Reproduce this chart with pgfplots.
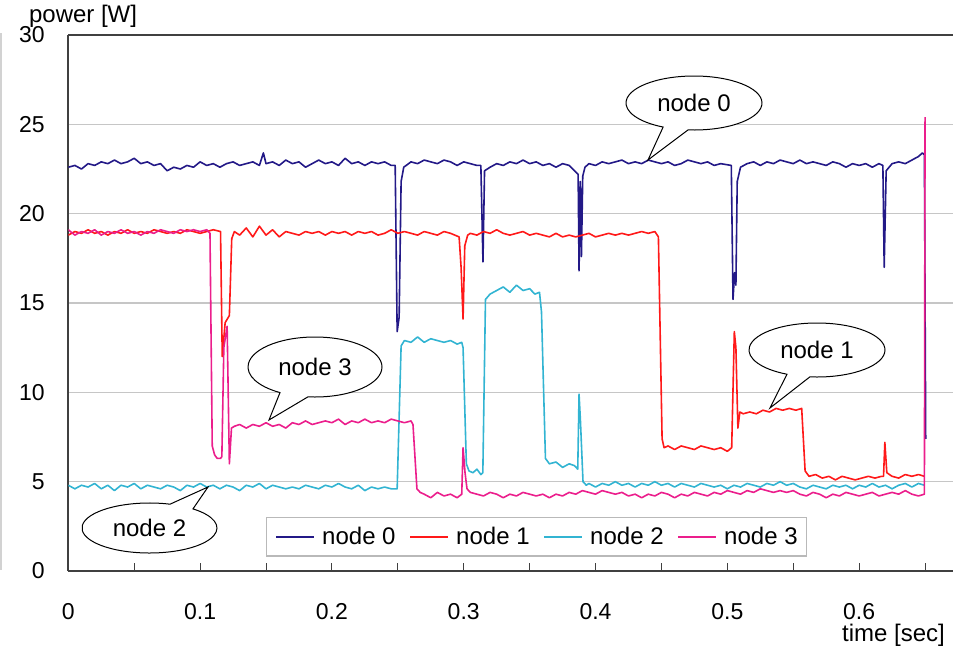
\documentclass[border=0pt]{standalone}
\usepackage{fontspec}
\setmainfont{Liberation Sans}
\usepackage{pgfplots}
\pgfplotsset{compat=1.18}
\definecolor{c0}{RGB}{35,25,135}
\definecolor{c1}{RGB}{255,25,25}
\definecolor{c2}{RGB}{50,180,210}
\definecolor{c3}{RGB}{235,30,140}
\begin{document}
\begin{tikzpicture}
\useasboundingbox (-34.15pt,-37pt) rectangle (443.35pt,285.5pt);
\begin{axis}[
  scale only axis, width=442.35pt, height=268pt,
  at={(0,0)}, anchor=south west,
  xmin=0, xmax=0.6712, ymin=0, ymax=30,
  axis x line=box, axis y line=left,
  axis line style={-, black!75, line width=1.1pt},
  xtick={0,0.1,0.2,0.3,0.4,0.5,0.6},
  xticklabels={0,0.1,0.2,0.3,0.4,0.5,0.6},
  minor xtick={0.05,0.15,0.25,0.35,0.45,0.55,0.65},
  ytick={0,5,10,15,20,25,30},
  xtick pos=left, ytick pos=left,
  tick align=inside, major tick length=4pt, minor tick length=4pt,
  xtick style={black!75, line width=0.5pt},
  ytick style={draw=none},
  ymajorgrids, grid style={gray!45, line width=0.6pt},
  /pgf/number format/assume math mode=true,
  xticklabel style={font=\fontsize{11.5}{13}\selectfont, inner sep=0pt, anchor=north, yshift=-16pt},
  yticklabel style={font=\fontsize{11.5}{13}\selectfont, inner sep=0pt, anchor=east, xshift=-11.6pt},
  ylabel={power [W]},
  every axis y label/.style={at={(rel axis cs:0,1)}, anchor=base west, xshift=-23.15pt, yshift=6.5pt, font=\fontsize{12}{14}\selectfont},
  xlabel={time [sec]},
  every axis x label/.style={at={(rel axis cs:1,0)}, anchor=base east, xshift=-0.5pt, yshift=-35pt, font=\fontsize{12}{14}\selectfont},
  every axis plot/.append style={line width=0.8pt, line join=round},
  no markers,
  legend columns=4,
  legend image code/.code={\draw[#1, line width=0.8pt] (0pt,0pt) -- (19pt,0pt);},
  legend style={at={(0.2235,0.1007)}, anchor=north west, draw=gray!55, line width=0.6pt, fill=white,
    inner xsep=4.5pt, inner ysep=4.5pt, font=\fontsize{12}{14}\selectfont,
    nodes={inner sep=0pt},
    /tikz/every even column/.append style={column sep=7pt},
    /tikz/every odd column/.append style={column sep=3.5pt}},
]
% node 0
\addplot[c0] coordinates {
(0.000,22.6)(0.005,22.7)(0.010,22.5)(0.015,22.8)(0.020,22.7)(0.025,22.9)(0.030,22.8)(0.035,23.0)(0.040,22.8)(0.045,22.9)
(0.050,23.1)(0.055,22.8)(0.060,22.9)(0.065,22.7)(0.070,22.8)(0.075,22.4)(0.080,22.6)(0.085,22.5)(0.090,22.7)(0.095,22.6)
(0.100,22.9)(0.105,22.7)(0.110,22.8)(0.115,22.6)(0.120,22.8)(0.125,22.9)(0.130,22.7)(0.135,22.8)(0.140,22.9)(0.145,22.7)
(0.148,23.4)(0.150,22.8)(0.155,22.9)(0.160,22.7)(0.165,23.0)(0.170,22.8)(0.175,22.9)(0.180,22.6)(0.185,22.8)(0.190,23.0)
(0.195,22.8)(0.200,22.9)(0.205,22.7)(0.210,23.1)(0.215,22.8)(0.220,22.9)(0.225,22.7)(0.230,22.9)(0.235,22.8)(0.240,22.9)
(0.245,22.7)(0.248,22.7)(0.2495,13.4)(0.251,14.2)(0.2525,21.8)(0.2545,22.6)(0.260,22.9)(0.265,22.8)(0.270,23.0)(0.275,22.9)
(0.280,22.8)(0.285,23.0)(0.290,22.9)(0.295,22.7)(0.300,22.9)(0.305,22.8)(0.310,22.7)(0.313,22.7)(0.3146,17.3)(0.3158,22.4)
(0.320,22.6)(0.325,22.8)(0.330,22.7)(0.335,22.9)(0.340,22.8)(0.345,23.0)(0.350,22.8)(0.355,22.9)(0.360,22.7)(0.365,22.8)
(0.370,22.6)(0.375,22.8)(0.380,22.7)(0.3868,22.2)(0.3875,16.8)(0.3885,21.8)(0.3893,17.6)(0.3903,22.1)(0.392,22.6)(0.395,22.8)
(0.400,22.7)(0.405,22.9)(0.410,22.8)(0.415,22.9)(0.420,23.0)(0.425,22.8)(0.430,22.9)(0.435,22.8)(0.440,23.0)(0.445,22.9)
(0.450,22.8)(0.455,22.9)(0.460,22.7)(0.465,22.8)(0.470,23.0)(0.475,22.9)(0.480,22.8)(0.485,22.9)(0.490,22.7)(0.495,22.8)
(0.5030,22.7)(0.5043,15.2)(0.5055,16.7)(0.5065,16.0)(0.5075,21.8)(0.510,22.6)(0.515,22.8)(0.520,22.9)(0.525,22.7)(0.530,22.9)
(0.535,22.8)(0.540,23.0)(0.545,22.9)(0.550,22.8)(0.555,23.0)(0.560,22.8)(0.565,22.9)(0.570,22.8)(0.575,22.7)(0.580,22.9)
(0.585,22.8)(0.590,22.6)(0.595,22.8)(0.600,22.7)(0.605,22.8)(0.610,22.6)(0.615,22.8)(0.618,22.7)(0.619,17.0)(0.6205,22.4)
(0.625,22.8)(0.630,22.9)(0.635,22.8)(0.640,23.0)(0.645,23.2)(0.648,23.4)(0.6495,23.3)(0.6505,7.4)
};
\addlegendentry{node 0}
% node 1
\addplot[c1] coordinates {
(0.000,18.8)(0.005,19.0)(0.010,18.9)(0.015,19.1)(0.020,18.9)(0.025,19.0)(0.030,18.8)(0.035,19.0)(0.040,18.9)(0.045,19.1)
(0.050,18.9)(0.055,19.0)(0.060,18.9)(0.065,19.1)(0.070,19.0)(0.075,18.9)(0.080,19.0)(0.085,18.9)(0.090,19.1)(0.095,19.0)
(0.100,18.9)(0.105,19.0)(0.110,19.1)(0.1155,19.0)(0.1168,12.0)(0.119,13.9)(0.1222,14.3)(0.124,18.6)(0.126,19.0)(0.130,18.8)
(0.135,19.2)(0.140,18.7)(0.145,19.3)(0.150,18.8)(0.155,19.1)(0.160,18.7)(0.165,19.0)(0.170,18.9)(0.175,18.8)(0.180,19.0)
(0.185,18.9)(0.190,19.0)(0.195,18.8)(0.200,19.0)(0.205,18.9)(0.210,19.0)(0.215,18.8)(0.220,19.0)(0.225,18.9)(0.230,19.0)
(0.235,18.8)(0.240,18.9)(0.245,19.1)(0.250,18.9)(0.255,19.0)(0.260,18.9)(0.265,18.8)(0.270,19.0)(0.275,18.9)(0.280,18.8)
(0.285,19.0)(0.290,18.9)(0.2965,18.7)(0.2980,17.0)(0.2995,14.1)(0.3008,18.2)(0.303,18.8)(0.305,18.9)(0.310,18.8)(0.315,19.0)
(0.320,18.9)(0.325,19.1)(0.330,18.9)(0.335,18.8)(0.340,18.9)(0.345,19.0)(0.350,18.8)(0.355,18.9)(0.360,18.8)(0.365,18.7)
(0.370,18.9)(0.375,18.7)(0.380,18.8)(0.385,18.7)(0.390,18.8)(0.395,18.9)(0.400,18.7)(0.405,18.8)(0.410,18.9)(0.415,18.8)
(0.420,18.9)(0.425,18.8)(0.430,18.9)(0.435,19.0)(0.440,18.9)(0.445,19.0)(0.4477,18.7)(0.4505,7.4)(0.452,6.9)(0.455,7.0)
(0.460,6.8)(0.465,7.0)(0.470,6.9)(0.475,6.8)(0.480,7.0)(0.485,6.9)(0.490,6.8)(0.495,6.9)(0.500,6.7)(0.5033,6.9)
(0.5053,13.4)(0.5065,12.5)(0.508,8.0)(0.5095,8.9)(0.512,8.8)(0.517,8.9)(0.522,8.8)(0.527,9.0)(0.532,8.9)(0.537,9.1)
(0.542,9.0)(0.547,9.1)(0.552,9.0)(0.5564,9.1)(0.559,5.6)(0.562,5.3)(0.567,5.4)(0.572,5.2)(0.577,5.3)(0.582,5.1)
(0.587,5.3)(0.592,5.2)(0.597,5.1)(0.602,5.2)(0.607,5.3)(0.612,5.2)(0.617,5.3)(0.6185,5.3)(0.6195,7.2)(0.621,5.5)
(0.625,5.3)(0.630,5.2)(0.635,5.4)(0.640,5.3)(0.645,5.4)(0.6495,5.3)
};
\addlegendentry{node 1}
% node 2
\addplot[c2] coordinates {
(0.000,4.8)(0.005,4.6)(0.010,4.8)(0.015,4.7)(0.020,4.9)(0.025,4.6)(0.030,4.8)(0.035,4.5)(0.040,4.8)(0.045,4.7)
(0.050,4.9)(0.055,4.6)(0.060,4.8)(0.065,4.7)(0.070,4.6)(0.075,4.8)(0.080,4.7)(0.085,4.5)(0.090,4.8)(0.095,4.7)
(0.100,4.9)(0.105,4.7)(0.110,4.8)(0.115,4.6)(0.120,4.8)(0.125,4.7)(0.130,4.5)(0.135,4.8)(0.140,4.7)(0.145,4.9)
(0.150,4.6)(0.155,4.8)(0.160,4.7)(0.165,4.6)(0.170,4.7)(0.175,4.6)(0.180,4.8)(0.185,4.7)(0.190,4.6)(0.195,4.8)
(0.200,4.7)(0.205,4.9)(0.210,4.7)(0.215,4.6)(0.220,4.8)(0.225,4.5)(0.230,4.7)(0.235,4.6)(0.240,4.7)(0.245,4.6)
(0.2495,4.6)(0.2525,12.6)(0.255,12.9)(0.260,12.8)(0.265,13.1)(0.270,12.8)(0.275,13.0)(0.280,12.9)(0.285,12.8)(0.290,12.9)
(0.295,12.7)(0.2985,12.8)(0.2995,12.5)(0.302,6.0)(0.304,5.6)(0.307,5.5)(0.310,5.7)(0.313,5.4)(0.3145,5.5)(0.3165,15.2)
(0.320,15.5)(0.325,15.7)(0.330,15.9)(0.335,15.6)(0.340,16.0)(0.345,15.7)(0.350,15.8)(0.354,15.5)(0.3575,15.6)(0.3590,14.5)
(0.362,6.3)(0.365,6.0)(0.370,6.1)(0.375,5.8)(0.380,6.0)(0.384,5.9)(0.3865,5.7)(0.3875,9.9)(0.3885,8.5)(0.3905,5.0)
(0.393,4.8)(0.395,4.9)(0.400,4.7)(0.405,4.9)(0.410,4.8)(0.415,5.0)(0.420,4.8)(0.425,4.9)(0.430,4.7)(0.435,4.9)
(0.440,4.8)(0.445,5.0)(0.450,4.8)(0.455,4.9)(0.460,4.7)(0.465,4.9)(0.470,4.8)(0.475,4.7)(0.480,4.9)(0.485,4.8)
(0.490,4.7)(0.495,4.8)(0.500,4.6)(0.505,4.8)(0.510,4.7)(0.515,4.9)(0.520,4.8)(0.525,4.7)(0.530,4.9)(0.535,4.8)
(0.540,5.0)(0.545,4.8)(0.550,4.9)(0.555,4.7)(0.560,4.6)(0.565,4.8)(0.570,4.7)(0.575,4.6)(0.580,4.8)(0.585,4.7)
(0.590,4.8)(0.595,4.6)(0.600,4.8)(0.605,4.7)(0.610,4.9)(0.615,4.7)(0.620,4.8)(0.625,4.6)(0.630,4.8)(0.635,4.9)
(0.640,4.7)(0.645,4.9)(0.6495,4.8)
};
\addlegendentry{node 2}
% node 3
\addplot[c3] coordinates {
(0.000,19.1)(0.005,18.8)(0.010,19.0)(0.015,18.9)(0.020,19.1)(0.025,18.8)(0.030,19.0)(0.035,18.9)(0.040,19.1)(0.045,18.9)
(0.050,19.0)(0.055,18.8)(0.060,19.0)(0.065,18.9)(0.070,19.1)(0.075,19.0)(0.080,18.9)(0.085,19.1)(0.090,19.0)(0.095,19.1)
(0.100,19.0)(0.105,19.1)(0.1075,18.9)(0.1092,7.0)(0.111,6.5)(0.113,6.3)(0.1155,6.3)(0.1165,6.4)(0.118,12.5)(0.1205,13.7)
(0.1222,6.0)(0.1238,8.0)(0.126,8.1)(0.130,8.2)(0.135,8.0)(0.140,8.2)(0.145,8.1)(0.150,8.3)(0.155,8.1)(0.160,8.2)
(0.165,8.0)(0.170,8.3)(0.175,8.2)(0.180,8.4)(0.185,8.2)(0.190,8.3)(0.195,8.4)(0.200,8.3)(0.205,8.5)(0.210,8.2)
(0.215,8.4)(0.220,8.3)(0.225,8.5)(0.230,8.3)(0.235,8.4)(0.240,8.3)(0.245,8.5)(0.250,8.4)(0.255,8.3)(0.260,8.4)
(0.2615,8.2)(0.2645,4.6)(0.267,4.4)(0.270,4.3)(0.275,4.1)(0.280,4.4)(0.285,4.2)(0.290,4.3)(0.295,4.1)(0.2985,4.3)
(0.2995,6.9)(0.301,5.5)(0.3025,4.6)(0.305,4.4)(0.310,4.3)(0.315,4.2)(0.320,4.4)(0.325,4.3)(0.330,4.1)(0.335,4.3)
(0.340,4.2)(0.345,4.4)(0.350,4.3)(0.355,4.2)(0.360,4.3)(0.365,4.1)(0.370,4.3)(0.375,4.2)(0.380,4.4)(0.385,4.3)
(0.390,4.5)(0.395,4.4)(0.400,4.3)(0.405,4.5)(0.410,4.4)(0.415,4.3)(0.420,4.4)(0.425,4.2)(0.430,4.3)(0.435,4.1)
(0.440,4.3)(0.445,4.2)(0.450,4.4)(0.455,4.3)(0.460,4.1)(0.465,4.3)(0.470,4.2)(0.475,4.4)(0.480,4.3)(0.485,4.2)
(0.490,4.4)(0.495,4.3)(0.500,4.5)(0.505,4.4)(0.510,4.3)(0.515,4.5)(0.520,4.4)(0.525,4.6)(0.530,4.5)(0.535,4.4)
(0.540,4.5)(0.545,4.4)(0.550,4.5)(0.555,4.3)(0.560,4.2)(0.565,4.4)(0.570,4.3)(0.575,4.1)(0.580,4.3)(0.585,4.2)
(0.590,4.4)(0.595,4.3)(0.600,4.2)(0.605,4.3)(0.610,4.4)(0.615,4.2)(0.620,4.3)(0.625,4.4)(0.630,4.3)(0.635,4.5)
(0.640,4.3)(0.645,4.2)(0.6495,4.3)(0.6500,25.4)
};
\addlegendentry{node 3}
\end{axis}
% faint frame line at the far left of the original picture
\draw[gray!35, line width=0.6pt] (-33.65pt,269pt) -- (-33.65pt,0.5pt);
% callouts
\begin{scope}[line width=0.5pt, font=\fontsize{12}{14}\selectfont]
\draw[fill=white] (312.85pt,234pt) ++(265:34pt and 13.5pt) arc[start angle=265, end angle=603, x radius=34pt, y radius=13.5pt] -- (289.85pt,205.5pt) -- cycle;
\node at (312.85pt,234pt) {node 0};
\draw[fill=white] (123.35pt,102pt) ++(264:33.5pt and 15pt) arc[start angle=264, end angle=598.5, x radius=33.5pt, y radius=15pt] -- (100.35pt,75.5pt) -- cycle;
\node at (123.35pt,102pt) {node 3};
\draw[fill=white] (40.6pt,21.5pt) ++(72.3:33.75pt and 12.5pt) arc[start angle=72.3, end angle=409.9, x radius=33.75pt, y radius=12.5pt] -- (69.85pt,42pt) -- cycle;
\node at (40.6pt,21.5pt) {node 2};
\draw[fill=white] (374.35pt,110.5pt) ++(264:34pt and 13.5pt) arc[start angle=264, end angle=603.8, x radius=34pt, y radius=13.5pt] -- (350.85pt,81.5pt) -- cycle;
\node at (374.35pt,110.5pt) {node 1};
\end{scope}
\end{tikzpicture}
\end{document}
